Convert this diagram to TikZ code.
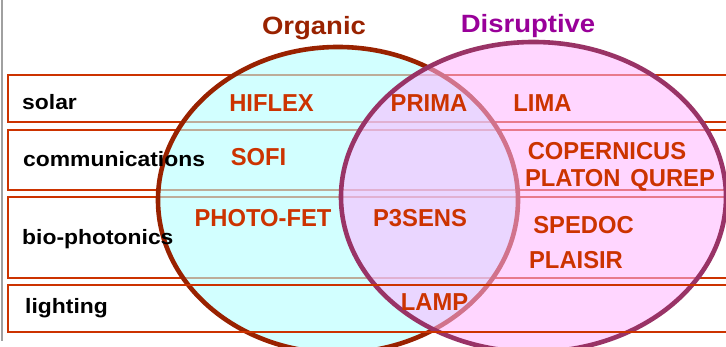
\documentclass[tikz,border=0pt]{standalone}
\usepackage{fontspec}
\setmainfont{Liberation Sans}
\newfontfamily\labfont[FakeStretch=1.1]{Liberation Sans}
\newfontfamily\codefont[FakeStretch=0.97]{Liberation Sans}
\definecolor{rowred}{RGB}{204,51,0}
\definecolor{orgborder}{RGB}{153,34,0}
\definecolor{orgfill}{RGB}{180,255,255}
\definecolor{disborder}{RGB}{153,51,102}
\definecolor{disfill}{RGB}{255,182,255}
\definecolor{orgtitle}{RGB}{153,34,0}
\definecolor{distitle}{RGB}{153,0,153}
\definecolor{edgegrey}{RGB}{160,160,160}
\tikzset{
  rowbox/.style={draw=rowred, line width=2.8pt},
  rowlabel/.style={anchor=base west, inner sep=0pt, text=black, font=\labfont\bfseries\fontsize{20.8}{24}\selectfont},
  codelabel/.style={anchor=base, inner sep=0pt, text=rowred, font=\codefont\bfseries\fontsize{24.5}{28}\selectfont},
  settitle/.style={anchor=base, inner sep=0pt, font=\labfont\bfseries\fontsize{25}{30}\selectfont},
  orgset/.style={draw=orgborder, line width=4.6pt, fill=orgfill, fill opacity=0.6},
  disset/.style={draw=disborder, line width=4.6pt, fill=disfill, fill opacity=0.55}
}
\begin{document}
\begin{tikzpicture}[x=1pt,y=-1pt]
\clip (0,0) rectangle (726,347);
\fill[white] (0,0) rectangle (726,347);
% left grey edge
\draw[edgegrey, line width=2pt] (1.5,0) -- (1.5,341);
% row bands (under the sets)
\draw[rowbox, fill=white] (8,75) rectangle (760,122);
\draw[rowbox, fill=white] (8,130) rectangle (760,190);
\draw[rowbox, fill=white] (8,197) rectangle (760,278);
% sets
\path[orgset] (338,200) ellipse [x radius=180pt, y radius=153pt];
\node[minimum width=360pt, minimum height=306pt, inner sep=0pt] (organic) at (338,200) {};
\path[disset] (533.5,197) ellipse [x radius=192.5pt, y radius=155pt];
\node[minimum width=385pt, minimum height=310pt, inner sep=0pt] (disruptive) at (533.5,197) {};
% lighting band (on top)
\draw[rowbox] (8,285) rectangle (760,332);
% titles
\node[settitle, text=orgtitle] (torg) at (314,35) {Organic};
\node[settitle, text=distitle] (tdis) at (528,33) {Disruptive};
% row labels
\node[rowlabel] (lsolar) at (22,110) {solar};
\node[rowlabel] (lcomm) at (23,167) {communications};
\node[rowlabel] (lbio) at (22,245) {bio-photonics};
\node[rowlabel] (llight) at (25,314) {lighting};
% projects
\node[codelabel] (hiflex) at (271.5,112) {HIFLEX};
\node[codelabel] (prima) at (429,112) {PRIMA};
\node[codelabel] (lima) at (542.5,112) {LIMA};
\node[codelabel] (sofi) at (258.5,166) {SOFI};
\node[codelabel] (copernicus) at (607,160) {COPERNICUS};
\node[codelabel] (platon) at (620,187) {PLATON\hspace{0.4em}QUREP};
\node[codelabel] (photofet) at (263,227) {PHOTO-FET};
\node[codelabel] (p3sens) at (420,227) {P3SENS};
\node[codelabel] (spedoc) at (583.5,234) {SPEDOC};
\node[codelabel] (plaisir) at (576,269) {PLAISIR};
\node[codelabel] (lamp) at (434.5,311) {LAMP};
\end{tikzpicture}
\end{document}
